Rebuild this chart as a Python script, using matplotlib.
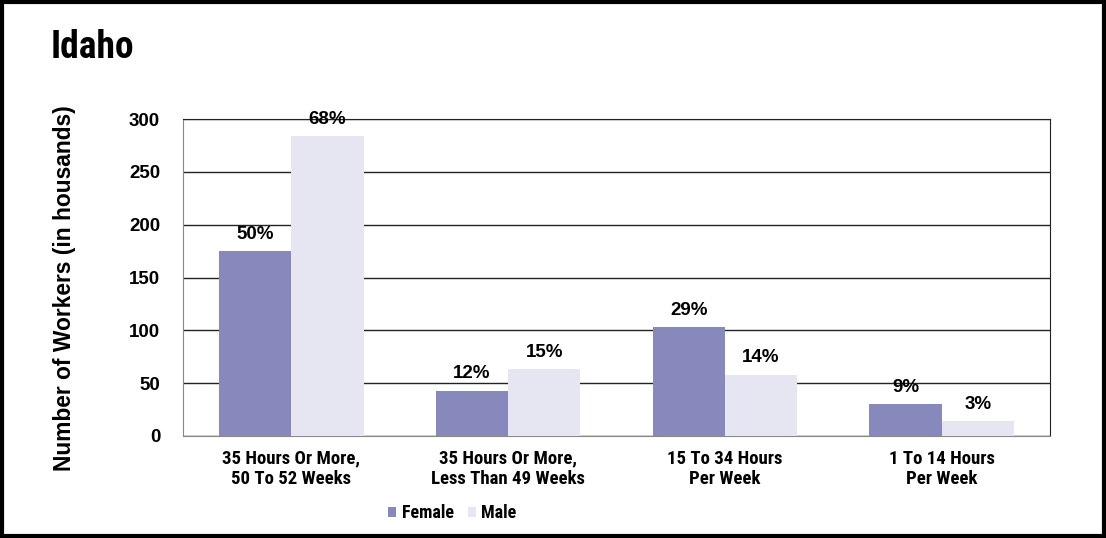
import matplotlib.pyplot as plt
import numpy as np
import matplotlib

# condensed face for the title, category labels and legend, Arial-like for the rest
COND = ['Roboto Condensed', 'Liberation Sans', 'DejaVu Sans']
ARIAL = ['Liberation Sans', 'DejaVu Sans']
matplotlib.rcParams['font.family'] = ARIAL

categories = ['35 Hours Or More,\n50 To 52 Weeks', '35 Hours Or More,\nLess Than 49 Weeks',
              '15 To 34 Hours\nPer Week', '1 To 14 Hours\nPer Week']
female = [175, 43, 103, 30]
male = [284, 63, 58, 14]
female_pct = ['50%', '12%', '29%', '9%']
male_pct = ['68%', '15%', '14%', '3%']

fig = plt.figure(figsize=(11.06, 5.38), dpi=100)
ax = fig.add_axes([0.1655, 0.1896, 0.7839, 0.5892])

x = np.arange(len(categories))
w = 0.333
b1 = ax.bar(x - w / 2, female, width=w, color='#8789bd', label='Female', zorder=3)
b2 = ax.bar(x + w / 2, male, width=w, color='#e6e6f2', label='Male', zorder=3)

for bars, labels in [(b1, female_pct), (b2, male_pct)]:
    for bar, lab in zip(bars, labels):
        ax.annotate(lab, (bar.get_x() + bar.get_width() / 2, bar.get_height()),
                    xytext=(0, 6), textcoords='offset points', ha='center', va='bottom',
                    fontsize=13.5, fontweight='bold', zorder=4)

ax.set_xlim(-0.5, 3.5)
ax.set_ylim(0, 300)
ax.set_yticks(range(0, 301, 50))
ax.yaxis.grid(True, color='#222222', linewidth=1, zorder=1)
ax.tick_params(axis='y', length=0, labelsize=13.5, pad=16.5)
ax.tick_params(axis='x', length=0, pad=10)
ax.set_xticks(x)
ax.set_xticklabels(categories, fontweight='bold', fontsize=13.5, linespacing=1.15, family=COND)
for lab in ax.get_yticklabels():
    lab.set_fontweight('bold')

for s in ['left', 'bottom']:
    ax.spines[s].set_color('#888888')
ax.spines['right'].set_color('#222222')
ax.spines['top'].set_color('#222222')

fig.text(0.058, 0.465, 'Number of Workers (in housands)', rotation=90, ha='center', va='center',
         fontsize=16.4, fontweight='bold')
fig.text(0.046, 0.911, 'Idaho', fontsize=27, fontweight='bold', ha='left', va='center', family=COND)

fig.legend(loc='center', bbox_to_anchor=(0.409, 0.046), ncol=2, frameon=False,
           prop={'weight': 'bold', 'size': 13, 'family': COND}, handlelength=0.45, handleheight=0.45,
           handletextpad=0.3, columnspacing=0.8)

fig.patches.append(plt.Rectangle((0.002, 0.004), 0.996, 0.992, transform=fig.transFigure,
                                 fill=False, edgecolor='black', linewidth=3))

plt.savefig('out.png', dpi=100)
